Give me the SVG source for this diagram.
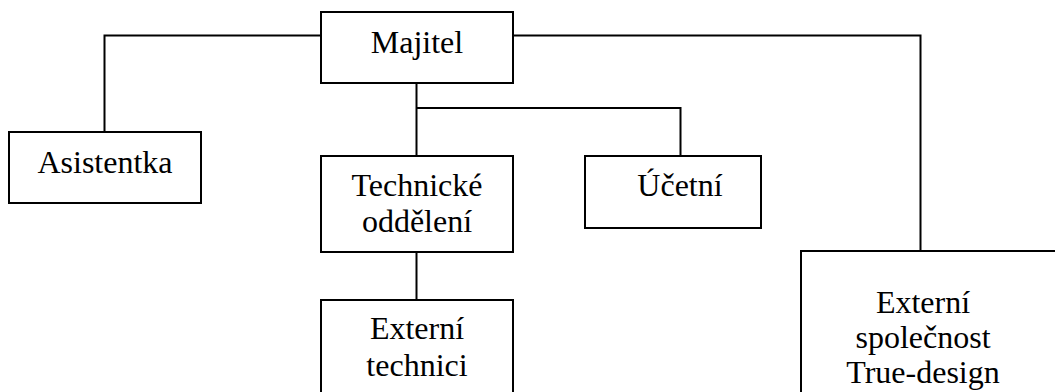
<svg xmlns="http://www.w3.org/2000/svg" width="1055" height="392" viewBox="0 0 1055 392">
<style>
.box{fill:#fff;stroke:#000;stroke-width:2}
.ln{fill:none;stroke:#000;stroke-width:2}
.t{font-family:'Liberation Serif','Times New Roman',serif;font-size:32px;fill:#000;text-anchor:middle}
</style>
<rect width="1055" height="392" fill="#fff"/>
<g id="connectors">
<polyline class="ln" points="321,35.5 104.5,35.5 104.5,132"/>
<polyline class="ln" points="512,35.5 920.5,35.5 920.5,251"/>
<line class="ln" x1="416.5" y1="83" x2="416.5" y2="156"/>
<polyline class="ln" points="416.5,108 680.5,108 680.5,156"/>
<line class="ln" x1="416.5" y1="252" x2="416.5" y2="300"/>
</g>
<g id="majitel">
<rect class="box" x="321" y="12" width="192" height="71"/>
<text class="t" x="417" y="53">Majitel</text>
</g>
<g id="asistentka">
<rect class="box" x="9" y="132" width="192" height="71"/>
<text class="t" x="105" y="173">Asistentka</text>
</g>
<g id="technicke">
<rect class="box" x="321" y="156" width="192" height="96"/>
<text class="t" x="417" y="196">Technické</text>
<text class="t" x="417" y="232">oddělení</text>
</g>
<g id="ucetni">
<rect class="box" x="585" y="156" width="176" height="72"/>
<text class="t" x="680" y="196">Účetní</text>
</g>
<g id="externi-technici">
<rect class="box" x="321" y="300" width="192" height="100"/>
<text class="t" x="417" y="339">Externí</text>
<text class="t" x="417" y="376">technici</text>
</g>
<g id="true-design">
<rect class="box" x="801" y="251" width="270" height="160"/>
<text class="t" x="923" y="313">Externí</text>
<text class="t" x="923" y="348">společnost</text>
<text class="t" x="923" y="383">True-design</text>
</g>
</svg>
